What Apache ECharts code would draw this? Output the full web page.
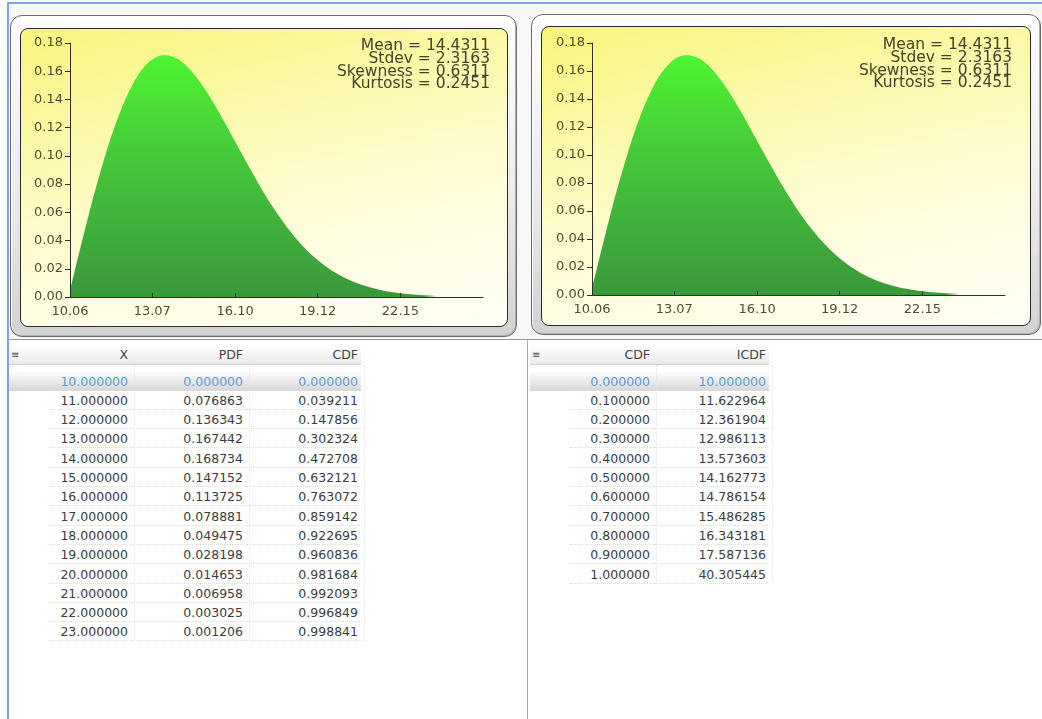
<!DOCTYPE html>
<html><head><meta charset="utf-8">
<script src="https://cdn.jsdelivr.net/npm/echarts@6/dist/echarts.min.js"></script>
<style>
html,body{margin:0;padding:0;width:1042px;height:719px;overflow:hidden;background:#fff;font-family:"DejaVu Sans",sans-serif;}
.a{position:absolute;box-sizing:border-box;}
.frame{border:1px solid #6b6b6b;border-radius:12px;background:linear-gradient(#fdfdfd,#ececec 55%,#d2d2d2);box-shadow:inset 1px 1px 0 #fff,inset -1px -1px 0 #b0b0b0;}
.inner{box-sizing:content-box;border:1px solid #2b2b2b;border-radius:8px;overflow:hidden;
 background:linear-gradient(168deg,#f8f47a 0%,#fbf8a2 25%,#fdfbc8 50%,#fefde2 72%,#fffff4 100%);}
.cell{position:absolute;height:19px;line-height:19px;text-align:right;font-size:12.5px;color:#3c3c3c;padding-right:4px;box-sizing:border-box;border-bottom:1px dotted #dcdcdc;white-space:nowrap;}
.hdr{position:absolute;height:20px;line-height:20px;text-align:right;font-size:12.5px;color:#444;padding-right:4px;box-sizing:border-box;white-space:nowrap;}
</style></head><body>
<script>
// ---------- data ----------
const curveX   = [10.06, 10.25, 10.5, 10.75, 11, 11.5, 12, 12.5, 13, 13.5, 14, 14.5, 15, 15.5, 16, 16.5, 17, 17.5, 18, 18.5, 19, 19.5, 20, 20.5, 21, 21.5, 22, 22.5, 23, 23.5];
const curvePdf = [0.0048, 0.0199, 0.0396, 0.0587, 0.0769, 0.1097, 0.1363, 0.1558, 0.1674, 0.1715, 0.1687, 0.1602, 0.1472, 0.1312, 0.1137, 0.0960, 0.0789, 0.0632, 0.0495, 0.0378, 0.0282, 0.0206, 0.0147, 0.0102, 0.0070, 0.0046, 0.0030, 0.0019, 0.0012, 0.0007];
const xTickValues = [10.06, 13.07, 16.10, 19.12, 22.15];
const statLabels = ['Mean', 'Stdev', 'Skewness', 'Kurtosis'];
const statValues = ['14.4311', '2.3163', '0.6311', '0.2451'];
const tableX   = [10, 11, 12, 13, 14, 15, 16, 17, 18, 19, 20, 21, 22, 23];
const tablePdf = [0.000000, 0.076863, 0.136343, 0.167442, 0.168734, 0.147152, 0.113725, 0.078881, 0.049475, 0.028198, 0.014653, 0.006958, 0.003025, 0.001206];
const tableCdf = [0.000000, 0.039211, 0.147856, 0.302324, 0.472708, 0.632121, 0.763072, 0.859142, 0.922695, 0.960836, 0.981684, 0.992093, 0.996849, 0.998841];
const probCdf  = [0.0, 0.1, 0.2, 0.3, 0.4, 0.5, 0.6, 0.7, 0.8, 0.9, 1.0];
const probIcdf = [10.000000, 11.622964, 12.361904, 12.986113, 13.573603, 14.162773, 14.786154, 15.486285, 16.343181, 17.587136, 40.305445];
const leftHeaders = ['X', 'PDF', 'CDF'];
const rightHeaders = ['CDF', 'ICDF'];

// ---------- page scaffolding ----------
function el(cls, css, parent, txt){
  const d = document.createElement('div');
  d.className = cls; Object.assign(d.style, css);
  if (txt !== undefined) d.textContent = txt;
  (parent || document.body).appendChild(d); return d;
}
el('a', {left:'9px', top:'4px', width:'1033px', height:'336px', background:'#f7f7f7'});
el('a', {left:'7px', top:'2px', width:'1035px', height:'2px', background:'#7aa8e0'});
el('a', {left:'7px', top:'2px', width:'2px', height:'717px', background:'#7aa8e0'});
el('a', {left:'9px', top:'339px', width:'1033px', height:'1px', background:'#9a9a9a'});
el('a', {left:'527px', top:'340px', width:'1px', height:'379px', background:'#a8a8a8'});

el('a frame', {left:'10px', top:'15px', width:'507px', height:'322px'});
el('a frame', {left:'531px', top:'14px', width:'510px', height:'321px'});
const wL = el('a inner', {left:'20px', top:'28px', width:'486px', height:'297px'});
const wR = el('a inner', {left:'541px', top:'26px', width:'488px', height:'298px'});
const cL = el('', {width:'486px', height:'297px'}, wL);
const cR = el('', {width:'488px', height:'298px'}, wR);

// ---------- tables ----------
function buildTable(x0, colRights, headers, cols, fmts){
  const right = colRights[colRights.length-1] + 3;
  el('a', {left:x0+'px', top:'345px', width:(right-x0)+'px', height:'20px',
    background:'linear-gradient(#ffffff,#e9e9e9)', borderBottom:'1px solid #d0d0d0'});
  el('a', {left:(x0+2)+'px', top:'345px', height:'20px', lineHeight:'20px', fontSize:'10px', color:'#555'}, null, '≡');
  let prev = x0;
  headers.forEach((h,j)=>{
    el('hdr', {left:prev+'px', width:(colRights[j]+4-prev)+'px', top:'345px'}, null, h);
    prev = colRights[j]+4;
  });
  const n = cols[0].length;
  el('a', {left:x0+'px', top:'372px', width:(right-x0)+'px', height:'19px',
    background:'linear-gradient(#fbfbfb,#e6e6e6 60%,#d6d6d6)'});
  for (let i=0;i<n;i++){
    const top = 371.5 + i*19.3;
    let p = x0 + 40;
    cols.forEach((c,j)=>{
      const w = colRights[j]+4-p;
      el('cell', {left:p+'px', width:w+'px', top:top+'px', color: i===0 ? '#5a98da' : '#3c3c3c'}, null, fmts[j](c[i]));
      p = colRights[j]+4;
    });
  }
  colRights.forEach(r=>{
    el('a', {left:(r+6)+'px', top:'365px', width:'0px', height:(n*19.3+6)+'px', borderLeft:'1px dotted #e2e2e2'});
  });
}
const f6 = v => v.toFixed(6);
buildTable(9, [128, 243, 358], leftHeaders, [tableX, tablePdf, tableCdf], [f6, f6, f6]);
buildTable(530, [650, 766], rightHeaders, [probCdf, probIcdf], [f6, f6]);

// ---------- charts ----------
const curve = curveX.map((x,i)=>[x, curvePdf[i]]);
function makeOption(grid, statX, statY){
  const lbl = {fontFamily:'DejaVu Sans', fontSize:13, color:'#4e4e30'};
  return {
    animation:false,
    backgroundColor:'transparent',
    grid: grid,
    xAxis: {
      type:'value', min:10.06, max:25.17, z:5,
      axisLine:{show:true, lineStyle:{color:'#2e2e2e', width:1}},
      axisTick:{show:true, inside:true, length:4, customValues:xTickValues, lineStyle:{color:'#2e2e2e'}},
      axisLabel:Object.assign({margin:8, customValues:xTickValues, formatter:v=>v.toFixed(2)}, lbl),
      splitLine:{show:false}
    },
    yAxis: {
      type:'value', min:0, max:0.18, interval:0.02, z:5,
      axisLine:{show:true, lineStyle:{color:'#2e2e2e', width:1}},
      axisTick:{show:true, length:5, lineStyle:{color:'#2e2e2e'}},
      axisLabel:Object.assign({margin:7, formatter:v=>v.toFixed(2)}, lbl),
      splitLine:{show:false}
    },
    graphic: [{
      type:'text', x:statX, y:statY, z:10,
      style:{
        text: statLabels.map((l,i)=>l+' = '+statValues[i]).join('\n'),
        align:'right', verticalAlign:'top', lineHeight:12.7,
        font:'15.5px "DejaVu Sans"', fill:'#44442a'
      }
    }],
    series: [{
      type:'line', data:curve, smooth:0.3, showSymbol:false, z:2,
      lineStyle:{width:0},
      areaStyle:{opacity:1, color:new echarts.graphic.LinearGradient(0,0,0,1,[
        {offset:0, color:'#4ef530'}, {offset:0.45, color:'#45c53a'}, {offset:1, color:'#3a983b'}])}
    }]
  };
}
echarts.init(cL, null, {renderer:'canvas'}).setOption(makeOption({left:49, top:14, right:24, bottom:29}, 469, 11));
echarts.init(cR, null, {renderer:'canvas'}).setOption(makeOption({left:50, top:16, right:25, bottom:30}, 470, 12));
</script>
</body></html>
